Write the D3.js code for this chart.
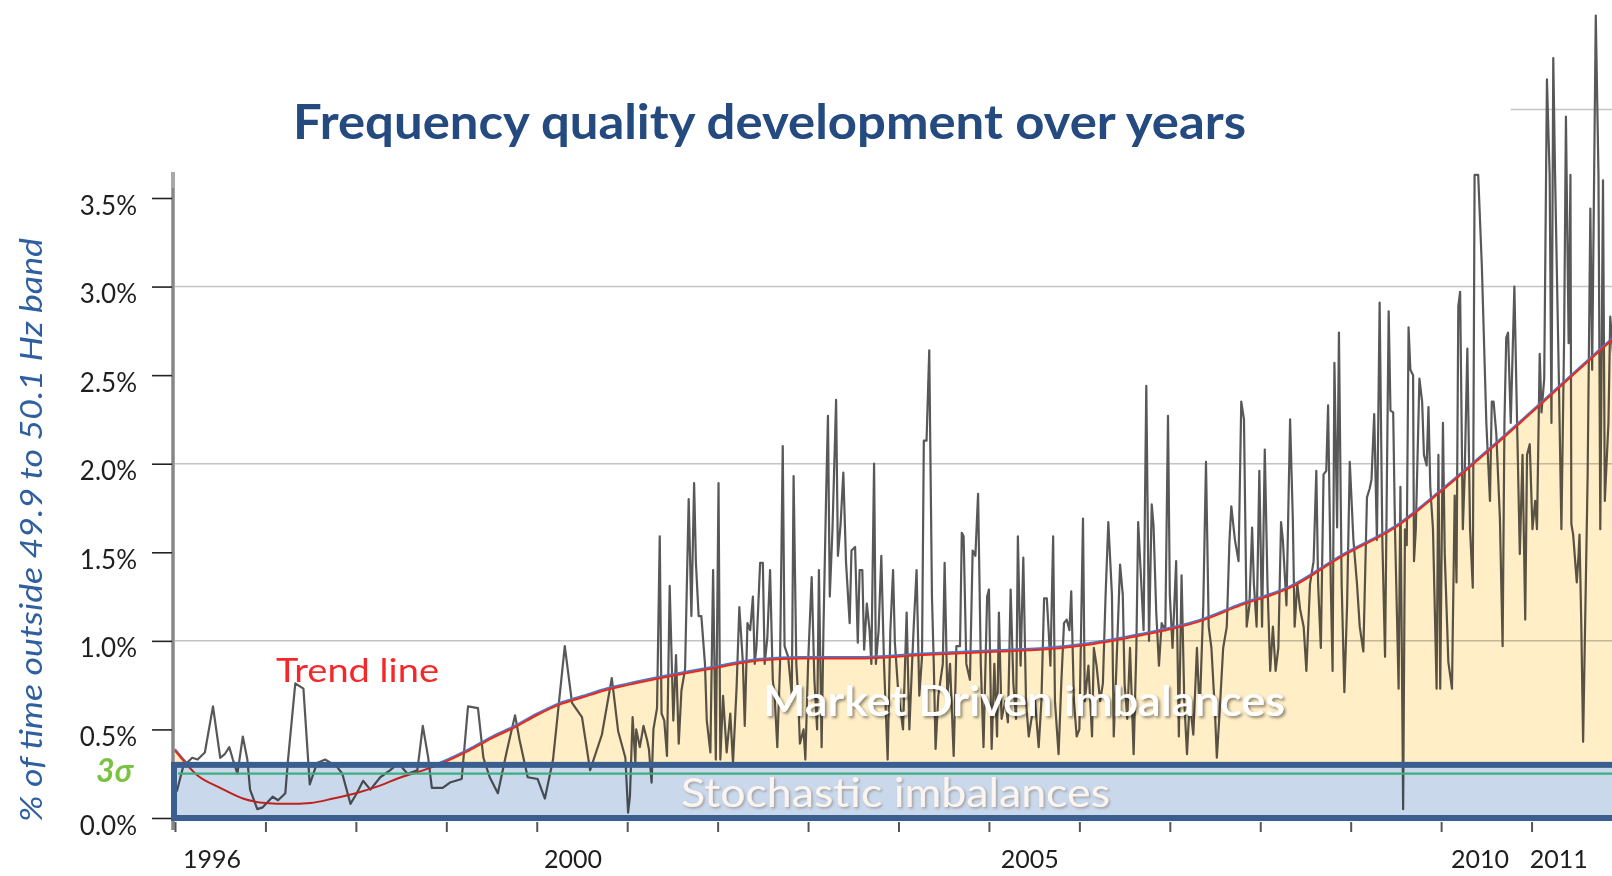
<!DOCTYPE html>
<html><head><meta charset="utf-8">
<script src="https://cdn.jsdelivr.net/npm/d3@7"></script>
<style>
html,body{margin:0;padding:0;background:#fff;overflow:hidden}
svg{display:block;font-family:Lato,"Open Sans",sans-serif}
</style></head><body>
<svg id="c" width="1612" height="876"></svg>
<script>
// ---------- data ----------
const titleText = "Frequency quality development over years";
const yLabelText = "% of time outside 49.9 to 50.1 Hz band";
const yTickValues = [0, 0.5, 1, 1.5, 2, 2.5, 3, 3.5];
const gridValues = [1, 2, 3, 4];
const gridStartYears = [1996, 1996, 1996, 2010.77];
const xTickYears = [1996,1997,1998,1999,2000,2001,2002,2003,2004,2005,2006,2007,2008,2009,2010,2011,2012];
const xLabelTexts = ["1996", "2000", "2005", "2010", "2011"];
const xLabelYears = [1996.41, 2000.40, 2005.45, 2010.43, 2011.30];
const stochasticTop = 0.30;
const threeSigma = 0.25;

// monthly observations 1996-2000 (% of time outside band)
const earlyObs = [[1996.02,0.15],[1996.09,0.29],[1996.19,0.34],[1996.25,0.33],[1996.33,0.37],[1996.42,0.63],[1996.50,0.34],[1996.55,0.36],[1996.60,0.40],[1996.64,0.33],[1996.69,0.25],[1996.75,0.46],[1996.80,0.33],[1996.83,0.16],[1996.91,0.05],[1996.97,0.06],[1997.08,0.12],[1997.14,0.10],[1997.22,0.14],[1997.25,0.33],[1997.33,0.76],[1997.42,0.73],[1997.49,0.19],[1997.57,0.31],[1997.66,0.33],[1997.79,0.29],[1997.85,0.25],[1997.94,0.08],[1998.01,0.14],[1998.08,0.21],[1998.16,0.16],[1998.27,0.23],[1998.38,0.27],[1998.47,0.31],[1998.57,0.25],[1998.68,0.27],[1998.74,0.52],[1998.80,0.34],[1998.84,0.17],[1998.96,0.17],[1999.04,0.20],[1999.17,0.22],[1999.24,0.63],[1999.35,0.62],[1999.41,0.34],[1999.48,0.23],[1999.57,0.14],[1999.67,0.38],[1999.76,0.58],[1999.81,0.44],[1999.90,0.23],[2000.01,0.22],[2000.09,0.11],[2000.18,0.33],[2000.31,0.97],[2000.39,0.65],[2000.50,0.57],[2000.59,0.27],[2000.72,0.47],[2000.83,0.79],[2000.90,0.49],[2000.98,0.34],[2001.01,0.03]];

// dense observations 2001-2011
const denseObs2001 = [[2001.03,0.12],[2001.06,0.57],[2001.09,0.31],[2001.10,0.50],[2001.14,0.40],[2001.18,0.52],[2001.22,0.44],[2001.24,0.39],[2001.27,0.20],[2001.29,0.50],[2001.33,0.62],[2001.36,1.59],[2001.38,0.59],[2001.41,0.55],[2001.44,0.35],[2001.47,1.31],[2001.51,0.55],[2001.54,0.92],[2001.57,0.42],[2001.60,0.72],[2001.64,0.84],[2001.68,1.80],[2001.71,1.14],[2001.74,1.89],[2001.76,1.44],[2001.79,1.14],[2001.82,1.14],[2001.86,0.87],[2001.88,0.55],[2001.92,0.37],[2001.95,1.40],[2001.98,0.33],[2002.01,1.89],[2002.03,0.33],[2002.06,0.69],[2002.10,0.37],[2002.14,0.59],[2002.17,0.31],[2002.21,0.74],[2002.24,1.19],[2002.28,0.87],[2002.30,0.52],[2002.33,1.10],[2002.36,1.06],[2002.39,1.25],[2002.41,0.87],[2002.43,0.97],[2002.47,1.44],[2002.50,1.44],[2002.52,0.87],[2002.55,1.02],[2002.58,1.40],[2002.61,0.78],[2002.63,0.69],[2002.66,0.40],[2002.69,0.87],[2002.72,2.10],[2002.74,0.97],[2002.78,0.91],[2002.82,0.69],[2002.84,1.93],[2002.87,0.87]];
const denseObs2003 = [[2002.89,0.69],[2002.91,0.42],[2002.95,0.50],[2002.97,0.33],[2003.00,0.87],[2003.04,1.36],[2003.07,0.78],[2003.10,0.50],[2003.12,1.40],[2003.15,0.40],[2003.17,1.06],[2003.20,1.83],[2003.22,2.27],[2003.24,1.25],[2003.27,1.63],[2003.31,2.36],[2003.33,1.48],[2003.36,1.66],[2003.39,1.95],[2003.42,1.44],[2003.46,1.10],[2003.48,1.51],[2003.52,1.53],[2003.55,0.99],[2003.57,1.40],[2003.60,1.40],[2003.62,0.95],[2003.65,1.21],[2003.68,1.06],[2003.70,0.87],[2003.73,2.00],[2003.75,0.87],[2003.78,1.06],[2003.81,1.48],[2003.84,0.87],[2003.88,0.33],[2003.91,1.06],[2003.94,1.40],[2003.96,0.99],[2004.00,0.69],[2004.05,0.50],[2004.09,1.16],[2004.12,0.50],[2004.15,0.87],[2004.17,1.10],[2004.20,1.40],[2004.23,0.69],[2004.26,0.91],[2004.28,2.13],[2004.31,2.13],[2004.34,2.64],[2004.37,1.25],[2004.39,0.87],[2004.41,0.39],[2004.44,0.69],[2004.49,0.87],[2004.51,1.44],[2004.54,0.69],[2004.57,0.87],[2004.61,0.35],[2004.64,0.97],[2004.68,0.97],[2004.70,1.61],[2004.72,1.59],[2004.75,0.87],[2004.79,0.78],[2004.82,1.51],[2004.85,1.48],[2004.88,1.83],[2004.91,0.87],[2004.94,0.40],[2004.98,1.25],[2005.00,1.29],[2005.03,0.39],[2005.06,0.87]];
const denseObs2005 = [[2005.09,0.46],[2005.11,1.16],[2005.14,0.56],[2005.18,0.66],[2005.21,0.54],[2005.24,1.29],[2005.27,0.76],[2005.30,0.56],[2005.32,1.59],[2005.35,0.86],[2005.38,1.47],[2005.41,0.66],[2005.44,0.46],[2005.47,0.56],[2005.51,0.66],[2005.55,0.40],[2005.58,0.66],[2005.61,1.24],[2005.64,1.24],[2005.66,1.06],[2005.68,0.86],[2005.71,1.59],[2005.73,0.66],[2005.77,0.36],[2005.80,0.76],[2005.83,1.10],[2005.86,1.12],[2005.89,1.06],[2005.91,1.28],[2005.94,0.66],[2005.97,0.46],[2006.00,0.50],[2006.04,1.69],[2006.06,0.66],[2006.10,0.86],[2006.14,0.46],[2006.16,0.96],[2006.19,0.86],[2006.23,0.66],[2006.26,0.76],[2006.29,1.26],[2006.32,1.67],[2006.36,1.26],[2006.38,0.46],[2006.41,0.86],[2006.45,1.43],[2006.48,1.26],[2006.50,0.76],[2006.53,0.56],[2006.56,0.96],[2006.60,0.36],[2006.63,0.96],[2006.65,1.67],[2006.68,1.37],[2006.71,1.06],[2006.74,2.44],[2006.77,1.00],[2006.80,1.77],[2006.82,1.65],[2006.85,1.16],[2006.88,0.86],[2006.91,1.10],[2006.95,1.06],[2006.98,2.27],[2007.00,1.26],[2007.03,0.96],[2007.07,1.45],[2007.10,0.46],[2007.13,1.37],[2007.16,0.66],[2007.19,0.36],[2007.22,0.66]];
const denseObs2007 = [[2007.26,0.47],[2007.30,0.96],[2007.33,0.59],[2007.37,1.20],[2007.40,2.01],[2007.43,1.08],[2007.46,0.96],[2007.50,0.59],[2007.52,0.34],[2007.55,0.59],[2007.59,0.96],[2007.63,1.08],[2007.66,1.57],[2007.68,1.76],[2007.72,1.57],[2007.76,1.45],[2007.79,2.35],[2007.82,2.25],[2007.85,1.08],[2007.88,1.20],[2007.91,1.64],[2007.93,1.32],[2007.96,1.08],[2007.99,1.96],[2008.02,1.08],[2008.05,2.08],[2008.08,1.32],[2008.11,0.83],[2008.14,1.08],[2008.17,0.83],[2008.20,0.96],[2008.23,1.67],[2008.25,1.57],[2008.29,1.20],[2008.33,2.25],[2008.36,1.69],[2008.38,1.08],[2008.41,1.32],[2008.44,1.18],[2008.48,1.08],[2008.51,0.83],[2008.55,1.32],[2008.59,1.45],[2008.62,1.96],[2008.64,1.32],[2008.67,0.96],[2008.70,1.94],[2008.73,1.96],[2008.75,2.33],[2008.78,1.32],[2008.80,0.83],[2008.82,2.57],[2008.85,1.64],[2008.87,2.74],[2008.90,1.32],[2008.93,0.71],[2008.96,1.20],[2008.99,2.01],[2009.03,1.57],[2009.07,1.32],[2009.10,1.08],[2009.14,0.94],[2009.18,1.81],[2009.21,1.86],[2009.23,1.91],[2009.26,2.28],[2009.29,1.57],[2009.32,2.91],[2009.35,1.57],[2009.38,0.91],[2009.42,2.86],[2009.44,2.30]];
const denseObs2009 = [[2009.47,2.29],[2009.49,1.63],[2009.53,0.73],[2009.55,1.87],[2009.58,0.05],[2009.60,1.63],[2009.62,1.54],[2009.64,2.77],[2009.66,2.53],[2009.69,2.50],[2009.70,1.45],[2009.72,1.63],[2009.76,2.48],[2009.79,2.35],[2009.81,2.05],[2009.84,1.99],[2009.86,2.32],[2009.88,1.87],[2009.91,1.63],[2009.95,0.73],[2009.97,2.05],[2009.99,0.73],[2010.02,2.23],[2010.04,1.49],[2010.08,0.88],[2010.12,0.73],[2010.15,1.82],[2010.17,1.33],[2010.19,2.89],[2010.21,2.97],[2010.24,1.63],[2010.26,1.93],[2010.29,2.65],[2010.32,1.63],[2010.35,1.30],[2010.37,3.63],[2010.41,3.63],[2010.45,3.12],[2010.50,2.23],[2010.54,1.79],[2010.56,2.35],[2010.58,2.35],[2010.61,2.17],[2010.65,1.69],[2010.68,0.97],[2010.70,2.23],[2010.72,2.71],[2010.74,2.74],[2010.77,2.23],[2010.81,3.00],[2010.84,2.23],[2010.87,1.49],[2010.90,2.05],[2010.93,1.12],[2010.95,2.05],[2010.98,2.11],[2011.01,1.63],[2011.04,1.79],[2011.06,1.63],[2011.09,2.62],[2011.11,2.29],[2011.14,2.48],[2011.17,4.17],[2011.20,3.63],[2011.22,2.23],[2011.24,4.29],[2011.26,3.63],[2011.30,2.53],[2011.33,1.63],[2011.36,2.71],[2011.38,3.96],[2011.41,2.68],[2011.43,3.63],[2011.44,1.66],[2011.46,1.60],[2011.50,1.33],[2011.52,1.49],[2011.53,1.60],[2011.55,1.09],[2011.57,0.43],[2011.59,1.03],[2011.62,1.93],[2011.65,3.44],[2011.67,2.53],[2011.69,3.54],[2011.71,4.53],[2011.74,3.63],[2011.76,1.63],[2011.79,3.60],[2011.81,1.79],[2011.85,2.23],[2011.87,2.83],[2011.92,2.50]];

// trend line
const trendYears = [1996.0,1996.25,1996.5,1996.75,1997.0,1997.25,1997.5,1997.75,1998.0,1998.25,1998.5,1998.75,1999.0,1999.25,1999.5,1999.75,2000.0,2000.25,2000.5,2000.75,2001.0,2001.47,2002.0,2002.47,2002.91,2003.54,2004.27,2005.12,2005.56,2006.12,2006.67,2007.04,2007.33,2007.78,2008.33,2008.88,2009.55,2009.99,2010.54,2011.09,2011.65,2012.0];
const trendValues = [0.38,0.24,0.17,0.11,0.085,0.08,0.085,0.11,0.14,0.18,0.23,0.27,0.32,0.38,0.45,0.51,0.58,0.64,0.68,0.72,0.75,0.80,0.85,0.89,0.90,0.90,0.92,0.94,0.95,0.98,1.03,1.07,1.11,1.20,1.30,1.47,1.66,1.84,2.08,2.33,2.59,2.75];

// ---------- drawing ----------
const svg = d3.select("#c");
const x = d3.scaleLinear().domain([1996, 2012]).range([175, 1622]);
const y = d3.scaleLinear().domain([0, 3.5]).range([818, 198]);

const defs = svg.append("defs");
const sh = defs.append("filter").attr("id","shadow").attr("x","-5%").attr("y","-30%").attr("width","110%").attr("height","160%");
sh.append("feDropShadow").attr("dx",2).attr("dy",2).attr("stdDeviation",1.6).attr("flood-color","#000").attr("flood-opacity",0.45);
const sh2 = defs.append("filter").attr("id","shadow2").attr("x","-5%").attr("y","-30%").attr("width","110%").attr("height","160%");
sh2.append("feDropShadow").attr("dx",1.5).attr("dy",1.5).attr("stdDeviation",1.2).attr("flood-color","#6b5a4a").attr("flood-opacity",0.45);
defs.append("clipPath").attr("id","aboveBand").append("rect")
  .attr("x",0).attr("y",0).attr("width",1612).attr("height",y(stochasticTop));

// gridlines
svg.append("g").selectAll("line").data(gridValues).join("line")
  .attr("x1",(d,i)=>x(gridStartYears[i])).attr("x2",1640)
  .attr("y1",d=>y(d)).attr("y2",d=>y(d))
  .attr("stroke","#c4c4c4").attr("stroke-width",1.5);

// title
svg.append("text").attr("x",293).attr("y",139).attr("textLength",953).attr("lengthAdjust","spacingAndGlyphs")
  .attr("font-size",47).attr("font-weight",700).attr("fill","#244a80").text(titleText);

// y axis label
svg.append("text").attr("transform","translate(42,530) rotate(-90)").attr("text-anchor","middle")
  .attr("textLength",584).attr("lengthAdjust","spacingAndGlyphs")
  .attr("font-size",30).attr("font-style","italic").attr("fill","#2f5f9f").text(yLabelText);

// y axis line
svg.append("line").attr("x1",173).attr("x2",173).attr("y1",172).attr("y2",830).attr("stroke","#a8a8a8").attr("stroke-width",4);
svg.append("line").attr("x1",173).attr("x2",173).attr("y1",188).attr("y2",830).attr("stroke","#707070").attr("stroke-width",1.2);

// y ticks and labels
const yAxis = d3.axisLeft(y).tickValues(yTickValues).tickSize(20).tickPadding(15)
  .tickFormat(d=>d3.format(".1f")(d)+"%");
const gy = svg.append("g").attr("transform","translate(172,0)").call(yAxis);
gy.select(".domain").remove();
gy.selectAll(".tick line").attr("stroke","#222").attr("stroke-width",1.6);
gy.selectAll(".tick text").attr("font-size",26).attr("fill","#1e1e1e").attr("font-family","Lato").attr("dy","0.85em").attr("y",-6);

// x ticks
const xAxis = d3.axisBottom(x).tickValues(xTickYears).tickSize(10).tickFormat("");
const gx = svg.append("g").attr("transform","translate(0,822)").call(xAxis);
gx.select(".domain").remove();
gx.selectAll(".tick line").attr("stroke","#555").attr("stroke-width",2);
svg.append("g").selectAll("text").data(xLabelTexts).join("text")
  .attr("x",(d,i)=>x(xLabelYears[i])).attr("y",868).attr("text-anchor","middle")
  .attr("font-size",25).attr("fill","#1e1e1e").text(d=>d);

// observation line
const obs = earlyObs.concat(denseObs2001, denseObs2003, denseObs2005, denseObs2007, denseObs2009);
const line = d3.line().x(d=>x(d[0])).y(d=>y(d[1]));
svg.append("path").datum(obs).attr("d",line).attr("fill","none")
  .attr("stroke","#585858").attr("stroke-width",2.2).attr("stroke-linejoin","round");

// trend lines
const trend = trendYears.map((t,i)=>[t, trendValues[i]]);
const trendLine = d3.line().x(d=>x(d[0])).y(d=>y(d[1])).curve(d3.curveMonotoneX);
svg.append("path").datum(trend).attr("d",trendLine).attr("fill","none")
  .attr("stroke","#4a78c8").attr("stroke-width",2).attr("transform","translate(0,-1.5)")
  .attr("clip-path","url(#aboveBand)");
svg.append("path").datum(trend).attr("d",trendLine).attr("fill","none")
  .attr("stroke","#f0281e").attr("stroke-width",2);

// market driven area
const area = d3.area().x(d=>x(d[0])).y0(y(stochasticTop))
  .y1(d=>y(Math.max(d[1], stochasticTop))).curve(d3.curveMonotoneX);
svg.append("path").datum(trend).attr("d",area).attr("fill","#ffeec6")
  .style("mix-blend-mode","multiply");

// stochastic band
svg.append("rect").attr("x",x(1996)-1).attr("y",y(stochasticTop)).attr("width",1700)
  .attr("height",y(0)-y(stochasticTop)).attr("fill","#c9d8eb").style("mix-blend-mode","multiply");
svg.append("line").attr("x1",x(1996)+3).attr("x2",1640).attr("y1",y(threeSigma)).attr("y2",y(threeSigma))
  .attr("stroke","#3fae80").attr("stroke-width",2.2);
svg.append("rect").attr("x",x(1996)-1).attr("y",y(stochasticTop)).attr("width",1700)
  .attr("height",y(0)-y(stochasticTop)).attr("fill","none").attr("stroke","#3a5e8e").attr("stroke-width",6);

// annotations
svg.append("text").attr("x",133).attr("y",782).attr("text-anchor","end").attr("font-size",32)
  .attr("font-weight",700).attr("font-style","italic").attr("fill","#7cc242").text("3σ");
svg.append("text").attr("x",276).attr("y",682).attr("textLength",163).attr("lengthAdjust","spacingAndGlyphs")
  .attr("font-size",33).attr("fill","#f4282a").text("Trend line");
svg.append("text").attr("x",763).attr("y",716).attr("textLength",522).attr("lengthAdjust","spacingAndGlyphs")
  .attr("font-size",42).attr("font-weight",600).attr("fill","#ffffff").attr("filter","url(#shadow)")
  .text("Market Driven imbalances");
svg.append("text").attr("x",681).attr("y",807).attr("textLength",429).attr("lengthAdjust","spacingAndGlyphs")
  .attr("font-size",40).attr("fill","#fbf4ef").attr("filter","url(#shadow2)")
  .text("Stochastic imbalances");
</script>
</body></html>
